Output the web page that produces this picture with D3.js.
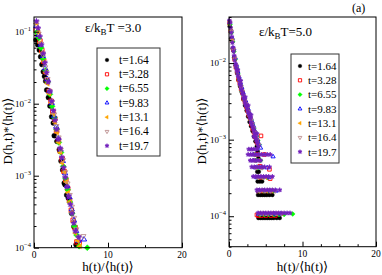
<!DOCTYPE html>
<html>
<head>
<meta charset="utf-8">
<script src="https://cdn.jsdelivr.net/npm/d3@7"></script>
<style>
  body { margin: 0; background: #fff; }
  text, tspan { font-family: "Liberation Serif", "DejaVu Serif", "Times New Roman", serif !important; }
</style>
</head>
<body>
<svg id="chart" width="382" height="275"></svg>
<script>
'use strict';

var FONT = '"Liberation Serif", "DejaVu Serif", "Times New Roman", serif';

// ---- series styling / labels ----
var seriesLabels = ['t=1.64', 't=3.28', 't=6.55', 't=9.83', 't=13.1', 't=16.4', 't=19.7'];
var seriesColors = ['#000000', '#ff0000', '#00ff00', '#0000ff', '#ffa500', '#bc8f8f', '#7221bc'];
var seriesShapes = ['circle', 'square', 'diamond', 'triUp', 'triLeft', 'triDown', 'star'];
var seriesFilled = [true, false, true, false, true, false, true];

var xTickValues = [0, 10, 20];

// ---- eps/kT = 3.0 : [h/<h>, D*<h>] ----
var eps3_t164 = [[0.27,0.0767],[0.5,0.066],[0.72,0.0557],[0.9,0.045],[1.08,0.035],[1.26,0.0278],[1.42,0.024],[1.58,0.0206],[1.72,0.0155],[1.95,0.0122],[2.16,0.0093],[2.39,0.0066],[2.61,0.0054],[2.74,0.0036],[3.1,0.003],[3.42,0.0023],[3.65,0.0016],[3.88,0.0012],[4.09,0.00079],[4.2,0.00075],[4.42,0.00054],[4.64,0.00049],[5.09,0.0003],[5.4,0.000196],[5.68,0.00011]];
var eps3_t328 = [[0.3,0.105],[0.55,0.092],[0.8,0.074],[1.05,0.055],[1.3,0.039],[1.55,0.028],[1.8,0.021],[2.05,0.0148],[2.3,0.0108],[2.55,0.0078],[2.8,0.0062],[3.05,0.0042],[3.3,0.0031],[3.55,0.0022],[3.8,0.0017],[4.05,0.00115],[4.3,0.00088],[4.55,0.00066],[4.8,0.00045],[5.05,0.00033],[5.3,0.00024],[5.55,0.00019],[5.8,0.00012],[6.1,0.000118]];
var eps3_t655 = [[0.35,0.098],[0.65,0.082],[0.95,0.06],[1.25,0.042],[1.55,0.029],[1.85,0.02],[2.15,0.0135],[2.45,0.0092],[2.75,0.0064],[3.05,0.0044],[3.35,0.0029],[3.65,0.0021],[3.95,0.00135],[4.25,0.00092],[4.55,0.00064],[4.85,0.00043],[5.15,0.0003],[5.45,0.0002],[5.75,0.00015],[6.1,0.000105],[7.2,0.0001]];
var eps3_t983 = [[0.3,0.12],[0.6,0.09],[0.9,0.066],[1.2,0.046],[1.5,0.031],[1.8,0.022],[2.1,0.0148],[2.4,0.0102],[2.7,0.0068],[3.0,0.0048],[3.3,0.0033],[3.6,0.0023],[3.9,0.0016],[4.2,0.00108],[4.5,0.00072],[4.8,0.0005],[5.1,0.00034],[5.4,0.00024],[5.7,0.00017],[6.0,0.000125],[6.76,0.00013]];
var eps3_t131 = [[0.35,0.13],[0.6,0.098],[0.85,0.07],[1.1,0.051],[1.35,0.038],[1.6,0.027],[1.85,0.019],[2.1,0.0138],[2.35,0.0104],[2.6,0.0073],[2.85,0.0055],[3.1,0.004],[3.35,0.0029],[3.6,0.0021],[3.85,0.0015],[4.1,0.00112],[4.35,0.00082],[4.6,0.00058],[4.85,0.00043],[5.1,0.00031],[5.35,0.00023],[5.6,0.00016],[5.9,0.000125],[6.2,0.000105]];
var eps3_t164b = [[0.32,0.125],[0.62,0.094],[0.92,0.068],[1.22,0.047],[1.52,0.032],[1.82,0.022],[2.12,0.015],[2.42,0.0105],[2.72,0.0071],[3.02,0.0049],[3.32,0.0034],[3.62,0.0023],[3.92,0.00165],[4.22,0.00112],[4.52,0.00078],[4.82,0.00054],[5.12,0.00037],[5.42,0.00026],[5.72,0.00018],[6.0,0.00014],[6.67,0.000145]];
var eps3_t197 = [[0.33,0.14],[0.55,0.112],[0.78,0.086],[1.0,0.066],[1.23,0.05],[1.46,0.037],[1.69,0.027],[1.92,0.02],[2.15,0.0148],[2.38,0.0108],[2.61,0.008],[2.84,0.0059],[3.07,0.0044],[3.3,0.0032],[3.53,0.0024],[3.76,0.0018],[3.99,0.0013],[4.22,0.00095],[4.45,0.0007],[4.68,0.00052],[4.91,0.0004],[5.14,0.0003],[5.37,0.00022],[5.6,0.00017],[6.04,0.00014]];

// ---- eps/kT = 5.0 ----
var eps5_t164 = [[0.1,0.03],[0.3,0.021],[0.5,0.0155],[0.7,0.0118],[0.9,0.0094],[1.1,0.0075],[1.3,0.006],[1.5,0.005],[1.73,0.0042],[1.95,0.0034],[2.18,0.0028],[2.4,0.0024],[2.6,0.002],[2.8,0.0017],[3.0,0.0015],[3.2,0.0013],[3.4,0.0011],[3.6,0.00095],[3.8,0.00082],[3.9,0.0007],[4.0,0.00057],
  [3.85,0.00038],[4.05,0.00038],[3.9,0.000285],[4.2,0.000285],[4.5,0.000285],
  [3.95,0.00019],[4.25,0.00019],[4.55,0.00019],[4.85,0.00019],[5.15,0.00019],[5.5,0.00019],[5.9,0.00019],
  [4.0,0.000095],[4.3,0.000095],[4.6,0.000095],[4.9,0.000095],[5.2,0.000095],[5.5,0.000095],[5.8,0.000095],[6.1,0.000095],[6.5,0.000095],[6.9,0.000095]];
var eps5_t328 = [[0.08,0.033],[0.25,0.026],[0.42,0.0195],[0.6,0.0148],[0.78,0.0112],[0.95,0.0088],[1.12,0.0075],[1.3,0.0061],[1.48,0.0054],[1.65,0.0046],[1.82,0.0041],[2.0,0.0034],[2.18,0.0031],[2.35,0.0027],[2.52,0.0024],[2.7,0.0021],[2.88,0.0019],[3.05,0.0016],[3.22,0.0014],[3.4,0.00125],[3.6,0.00108],[3.8,0.00092],[4.35,0.00112],
  [3.8,0.00064],[4.8,0.00064],[4.2,0.00045],[5.5,0.00041],[4.2,0.00032],[5.6,0.00031],
  [4.0,0.000214],[4.6,0.000214],[5.3,0.000214],[5.9,0.000214],
  [3.8,0.000104],[4.0,0.000102],[4.4,0.000102],[5.0,0.000102],[5.7,0.000102],[6.3,0.000102]];
var eps5_t655 = [[0.15,0.032],[0.32,0.025],[0.5,0.019],[0.68,0.0142],[0.86,0.0112],[1.04,0.0086],[1.22,0.0072],[1.4,0.006],[1.58,0.0051],[1.76,0.0043],[1.94,0.0038],[2.12,0.0033],[2.3,0.0029],[2.48,0.0026],[2.66,0.0023],[2.84,0.0021],[3.02,0.0018],[3.2,0.0016],[3.38,0.0014],[3.56,0.00125],[3.74,0.0011],[3.92,0.00098],[4.1,0.00086],
  [3.5,0.00064],[3.7,0.000535],[4.3,0.000535],[3.9,0.00043],[4.5,0.00043],
  [4.0,0.00032],[4.6,0.00032],[5.2,0.00032],
  [4.1,0.000214],[4.7,0.000214],[5.3,0.000214],[6.0,0.000214],
  [4.2,0.000105],[4.8,0.000105],[5.4,0.000105],[6.1,0.000105],[6.8,0.000105],[7.5,0.000105],[8.67,0.000107]];
var eps5_t983 = [[0.12,0.034],[0.3,0.027],[0.48,0.021],[0.66,0.0155],[0.84,0.0118],[1.02,0.0094],[1.2,0.0077],[1.38,0.0066],[1.56,0.0055],[1.74,0.0048],[1.92,0.0041],[2.1,0.0036],[2.28,0.0032],[2.46,0.0028],[2.64,0.0025],[2.82,0.0022],[3.0,0.0019],[3.18,0.0017],[3.36,0.0015],[3.54,0.0013],[3.72,0.00115],[3.9,0.001],[4.1,0.00088],[4.3,0.00078],
  [3.3,0.00064],[6.0,0.0006],[3.4,0.000535],[3.6,0.00043],[4.4,0.00043],[5.2,0.00043],
  [3.8,0.00032],[4.6,0.00032],[5.4,0.00032],
  [4.0,0.000214],[4.8,0.000214],[5.6,0.000214],[6.4,0.000214],
  [4.0,0.000107],[4.7,0.000107],[5.4,0.000107],[6.2,0.000107],[7.0,0.000107]];
var eps5_t131 = [[0.1,0.035],[0.27,0.027],[0.44,0.02],[0.61,0.015],[0.78,0.0115],[0.95,0.0092],[1.12,0.0077],[1.29,0.0065],[1.46,0.0057],[1.63,0.0049],[1.8,0.0042],[1.97,0.0037],[2.14,0.0032],[2.31,0.0029],[2.48,0.0026],[2.65,0.0023],[2.82,0.002],[2.99,0.0018],[3.16,0.0016],[3.33,0.0014],[3.5,0.00123],[3.67,0.0011],[3.84,0.00096],[4.0,0.00085],
  [3.3,0.00064],[3.4,0.000535],[4.0,0.000535],[3.6,0.00043],[4.3,0.00043],
  [3.9,0.00032],[4.5,0.00032],[5.0,0.00032],
  [4.0,0.000214],[4.5,0.000214],[5.1,0.000214],[5.8,0.000214],
  [4.1,0.000108],[4.6,0.000108],[5.2,0.000108],[5.8,0.000108],[6.5,0.000108],[7.2,0.000108]];
var eps5_t164b = [[0.13,0.033],[0.3,0.026],[0.47,0.02],[0.64,0.0152],[0.81,0.0116],[0.98,0.0093],[1.15,0.0078],[1.32,0.0066],[1.49,0.0057],[1.66,0.0049],[1.83,0.0043],[2.0,0.0037],[2.17,0.0033],[2.34,0.0029],[2.51,0.0026],[2.68,0.0023],[2.85,0.002],[3.02,0.0018],[3.19,0.0016],[3.36,0.0014],[3.53,0.00125],[3.7,0.0011],[3.87,0.00098],[4.05,0.00086],
  [3.4,0.00064],[3.6,0.000535],[3.8,0.00043],[4.5,0.00043],[4.0,0.00032],[4.7,0.00032],
  [4.2,0.000214],[4.9,0.000214],[5.6,0.000214],[6.3,0.000214],
  [4.3,0.000109],[5.0,0.000109],[5.7,0.000109],[6.4,0.000109],[7.1,0.000109]];
var eps5_t197 = [[0.05,0.036],[0.14,0.034],[0.22,0.029],[0.3,0.025],[0.38,0.022],[0.46,0.0185],[0.54,0.016],[0.62,0.0142],[0.7,0.0125],[0.78,0.011],[0.86,0.0098],[0.94,0.0092],[1.02,0.0085],[1.1,0.0078],[1.2,0.007],[1.3,0.0065],[1.4,0.0059],[1.5,0.0053],[1.6,0.005],[1.7,0.0045],[1.8,0.0042],[1.9,0.0039],[2.0,0.0035],[2.1,0.0033],[2.2,0.003],[2.3,0.0028],[2.4,0.0027],[2.5,0.0025],[2.6,0.0023],[2.7,0.0022],[2.8,0.002],[2.9,0.0019],[3.0,0.0017],[3.1,0.0016],[3.2,0.0015],[3.3,0.0014],[3.4,0.0013],[3.5,0.0012],[3.6,0.00108],[3.7,0.001],[3.8,0.00095],[3.9,0.00088],[4.0,0.00082],[2.2,0.0036],[2.6,0.0028],[3.0,0.0021],[1.6,0.0059],[1.2,0.0082],[3.4,0.0011],[3.8,0.0012],
  [2.7,0.00075],[3.05,0.00075],[3.4,0.00075],[3.8,0.00075],
  [2.6,0.00064],[2.95,0.00064],[3.3,0.00064],[3.65,0.00064],[4.0,0.00064],[4.4,0.00064],[4.8,0.00064],[5.2,0.00064],[5.6,0.00064],
  [2.9,0.000535],[3.25,0.000535],[3.6,0.000535],[3.95,0.000535],[4.3,0.000535],
  [3.1,0.00044],[3.45,0.00044],[3.8,0.00044],[4.15,0.00044],[4.5,0.00044],[4.85,0.00044],[5.5,0.00044],
  [3.3,0.00033],[3.65,0.00033],[4.0,0.00033],[4.35,0.00033],[4.7,0.00033],[5.05,0.00033],[5.4,0.00033],[5.9,0.00033],
  [3.8,0.00022],[4.15,0.00022],[4.5,0.00022],[4.85,0.00022],[5.2,0.00022],[5.55,0.00022],[5.9,0.00022],[6.3,0.00022],[6.9,0.00022],
  [3.95,0.00011],[4.3,0.00011],[4.65,0.00011],[5.0,0.00011],[5.35,0.00011],[5.7,0.00011],[6.05,0.00011],[6.4,0.00011],[6.75,0.00011],[7.1,0.00011],[7.5,0.00011],[7.9,0.00011],[8.3,0.00011]];

var panels = [
  {
    series: [eps3_t164, eps3_t328, eps3_t655, eps3_t983, eps3_t131, eps3_t164b, eps3_t197],
    left: 34, right: 182, top: 17, bottom: 247.7,
    yDomain: [1e-4, 0.16], yMajor: [1e-4, 1e-3, 1e-2, 1e-1],
    xMinor: [5, 15], symR: 2.5,
    title: { x: 85, y: 32, value: ' =3.0' },
    legend: { x: 97, y: 48, w: 63, h: 108, symX: 107, textX: 119, row0: 60, step: 14.3, size: 11.5 },
    yLabelX: 12, xLabelX: 108
  },
  {
    series: [eps5_t164, eps5_t328, eps5_t655, eps5_t983, eps5_t131, eps5_t164b, eps5_t197],
    left: 229, right: 376, top: 17, bottom: 246.7,
    yDomain: [4e-5, 4e-2], yMajor: [1e-4, 1e-3, 1e-2],
    xMinor: [2.5, 5, 7.5, 12.5, 15, 17.5], symR: 2.0,
    title: { x: 259, y: 36, value: '=5.0' },
    legend: { x: 291, y: 54, w: 48, h: 109, symX: 300, textX: 308, row0: 66, step: 14.3, size: 11 },
    yLabelX: 205.5, xLabelX: 302.5
  }
];

var svg = d3.select('#chart').attr('font-family', FONT);

function shapePath(shape, r) {
  var a = r * 1.2;
  switch (shape) {
    case 'circle': return d3.symbol(d3.symbolCircle, Math.PI * r * r)();
    case 'square': return 'M' + (-r * 0.9) + ',' + (-r * 0.9) + 'h' + (1.8 * r) + 'v' + (1.8 * r) + 'h' + (-1.8 * r) + 'Z';
    case 'diamond': return 'M0,' + (-a) + 'L' + a + ',0L0,' + a + 'L' + (-a) + ',0Z';
    case 'triUp': return 'M0,' + (-a) + 'L' + (a * 0.87) + ',' + (a * 0.5) + 'L' + (-a * 0.87) + ',' + (a * 0.5) + 'Z';
    case 'triLeft': return 'M' + (-a) + ',0L' + (a * 0.5) + ',' + (-a * 0.87) + 'L' + (a * 0.5) + ',' + (a * 0.87) + 'Z';
    case 'triDown': return 'M0,' + a + 'L' + (a * 0.87) + ',' + (-a * 0.5) + 'L' + (-a * 0.87) + ',' + (-a * 0.5) + 'Z';
    case 'star': return d3.symbol(d3.symbolStar, 1.6 * r * r)();
  }
}

function drawMarks(g, pts, i, r, px, py) {
  var color = seriesColors[i];
  var sg = g.append('g').attr('class', 'series s' + i);
  sg.selectAll('path.mk')
    .data(pts)
    .join('path')
      .attr('class', 'mk')
      .attr('transform', function (d) { return 'translate(' + px(d) + ',' + py(d) + ')'; })
      .attr('d', shapePath(seriesShapes[i], r))
      .attr('fill', seriesFilled[i] ? color : 'none')
      .attr('stroke', color)
      .attr('stroke-width', seriesFilled[i] ? 0.4 : 0.9);
  if (seriesShapes[i] === 'star') {
    // asterisk spikes over the small filled star
    var s = r * 1.15;
    sg.selectAll('path.spk')
      .data(pts)
      .join('path')
        .attr('class', 'spk')
        .attr('transform', function (d) { return 'translate(' + px(d) + ',' + py(d) + ')'; })
        .attr('d', 'M' + (-s) + ',0H' + s + 'M0,' + (-s) + 'V' + s +
          'M' + (-s * 0.7) + ',' + (-s * 0.7) + 'L' + (s * 0.7) + ',' + (s * 0.7) +
          'M' + (-s * 0.7) + ',' + (s * 0.7) + 'L' + (s * 0.7) + ',' + (-s * 0.7))
        .attr('stroke', color)
        .attr('stroke-width', 0.8);
  }
}

function addText(sel) {
  return sel.append('text').attr('font-family', FONT).attr('fill', '#000');
}

panels.forEach(function (p) {
  var x = d3.scaleLinear().domain([0, 20]).range([p.left, p.right]);
  var y = d3.scaleLog().domain(p.yDomain).range([p.bottom, p.top]);
  var g = svg.append('g');

  // data
  p.series.forEach(function (pts, i) {
    drawMarks(g, pts, i, p.symR,
      function (d) { return x(d[0]); },
      function (d) { return y(d[1]); });
  });

  // frame
  g.append('rect')
    .attr('x', p.left).attr('y', p.top)
    .attr('width', p.right - p.left).attr('height', p.bottom - p.top)
    .attr('fill', 'none').attr('stroke', '#000').attr('stroke-width', 1);

  // ticks (inward)
  var isMajor = function (v) { return Math.abs(Math.log10(v) - Math.round(Math.log10(v))) < 1e-6; };
  var yMinor = y.ticks().filter(function (v) { return !isMajor(v); });
  var ax = g.append('g');
  ax.append('g').attr('transform', 'translate(' + p.left + ',0)')
    .call(d3.axisLeft(y).tickValues(yMinor).tickSize(-2.5).tickFormat(''));
  ax.append('g').attr('transform', 'translate(' + p.left + ',0)')
    .call(d3.axisLeft(y).tickValues(p.yMajor).tickSize(-5).tickFormat(''));
  ax.append('g').attr('transform', 'translate(0,' + p.bottom + ')')
    .call(d3.axisBottom(x).tickValues(p.xMinor).tickSize(-2.5).tickFormat(''));
  ax.append('g').attr('transform', 'translate(0,' + p.bottom + ')')
    .call(d3.axisBottom(x).tickValues(xTickValues).tickSize(-5).tickFormat(''));
  ax.selectAll('.domain').remove();
  ax.selectAll('text').remove();
  ax.selectAll('line').attr('stroke', '#000');

  // y tick labels 10^n
  p.yMajor.forEach(function (d) {
    var tx = addText(g)
      .attr('x', p.left - 3)
      .attr('y', y(d) + 3)
      .attr('text-anchor', 'end')
      .attr('font-size', 9);
    tx.append('tspan').text('10');
    tx.append('tspan').attr('dy', -4).attr('font-size', 6.5)
      .text(String(Math.round(Math.log10(d))).replace('-', '\u2212'));
  });

  // x tick labels
  xTickValues.forEach(function (d) {
    addText(g)
      .attr('x', x(d))
      .attr('y', p.bottom + 10)
      .attr('text-anchor', 'middle')
      .attr('font-size', 9.5)
      .text(d);
  });

  // axis titles
  addText(g)
    .attr('transform', 'translate(' + p.yLabelX + ',' + 131 + ') rotate(-90)')
    .attr('text-anchor', 'middle')
    .attr('font-size', 13)
    .text('D(h,t)*\u27e8h(t)\u27e9');
  addText(g)
    .attr('x', p.xLabelX).attr('y', 271)
    .attr('text-anchor', 'middle')
    .attr('font-size', 13)
    .text('h(t)/\u27e8h(t)\u27e9');

  // panel title eps/k_B T
  var t = addText(g).attr('x', p.title.x).attr('y', p.title.y).attr('font-size', 13);
  t.append('tspan').text('\u03b5/k');
  t.append('tspan').attr('dy', 3).attr('font-size', 9).text('B');
  t.append('tspan').attr('dy', -3).text('T' + p.title.value);

  // legend
  var L = p.legend;
  var lg = g.append('g');
  lg.append('rect')
    .attr('x', L.x).attr('y', L.y).attr('width', L.w).attr('height', L.h)
    .attr('fill', '#fff').attr('stroke', '#333').attr('stroke-width', 1);
  seriesLabels.forEach(function (lab, i) {
    var cy = L.row0 + i * L.step;
    drawMarks(lg, [[L.symX, cy]], i, 1.8,
      function (d) { return d[0]; },
      function (d) { return d[1]; });
    addText(lg)
      .attr('x', L.textX).attr('y', cy + 3.8)
      .attr('font-size', L.size)
      .text(lab);
  });
});

addText(svg)
  .attr('x', 352).attr('y', 12)
  .attr('font-size', 12)
  .text('(a)');
</script>
</body>
</html>
